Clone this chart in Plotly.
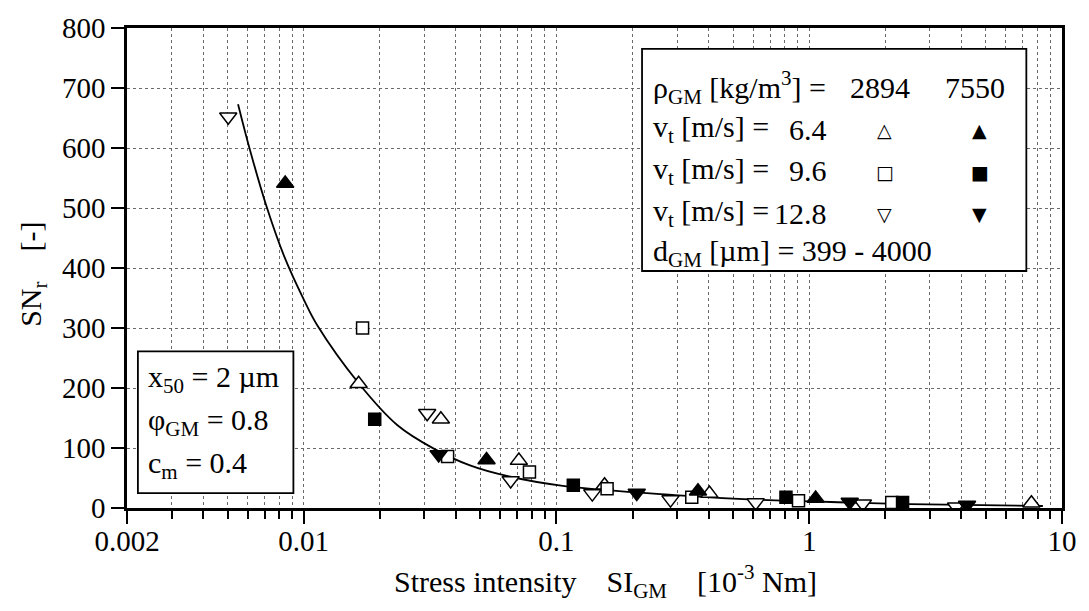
import numpy as np
import plotly.graph_objects as go

# ---- data -------------------------------------------------------------
# rho_GM = 2894 kg/m3 (open symbols) and 7550 kg/m3 (filled symbols)
si_up_open = [0.0165, 0.0349, 0.0710, 0.155, 0.403, 7.57]
sn_up_open = [207, 148, 79, 38, 24, 8]

si_up_fill = [0.00845, 0.0529, 0.363, 1.06]
sn_up_fill = [541, 80, 28, 16]

si_sq_open = [0.0171, 0.0371, 0.0782, 0.1586, 0.343, 0.907, 2.12]
sn_sq_open = [300, 86, 60, 32, 18, 12, 9]

si_sq_fill = [0.0191, 0.1166, 0.809, 2.34]
sn_sq_fill = [148, 38, 18, 9]

si_dn_open = [0.00503, 0.0308, 0.0659, 0.1386, 0.2826, 0.614, 1.63, 3.81]
sn_dn_open = [652, 158, 46, 24, 14, 9, 7, 2]

si_dn_fill = [0.0342, 0.2078, 1.446, 4.21]
sn_dn_fill = [89, 25, 10, 5]

# fitted trend line
curve_si = [0.0055, 0.0061, 0.0071, 0.0084, 0.0101, 0.0113, 0.0165, 0.0235,
            0.0327, 0.0455, 0.0643, 0.106, 0.294, 0.604, 1.49, 2.49, 8.4]
curve_sn = [673, 600, 505, 418, 344, 305, 208, 138,
            99, 71, 53, 37, 21.5, 14, 9, 6.6, 3.3]

x_tick_vals = [0.002, 0.01, 0.1, 1, 10]
x_tick_text = ["0.002", "0.01", "0.1", "1", "10"]
y_tick_vals = [0, 100, 200, 300, 400, 500, 600, 700, 800]

# ---- layout geometry --------------------------------------------------
W, H = 1089, 611
L, R, T, B = 127, 1071, 24, 508
FONT = "Liberation Serif"
FS = 30


def px(xp):
    return (xp - L) / (R - L)


def py(yp):
    return (B - yp) / (B - T)


fig = go.Figure()

fig.add_trace(go.Scatter(
    x=curve_si, y=curve_sn, mode="lines",
    line=dict(color="black", width=1.8, shape="spline", smoothing=1.0),
    showlegend=False, hoverinfo="skip"))


def add_points(xs, ys, symbol, filled, size):
    fig.add_trace(go.Scatter(
        x=xs, y=ys, mode="markers", showlegend=False,
        marker=dict(symbol=symbol, size=size,
                    color="black" if filled else "white",
                    line=dict(color="black", width=1.5))))


add_points(si_up_open, sn_up_open, "triangle-up", False, 15)
add_points(si_sq_open, sn_sq_open, "square", False, 12)
add_points(si_dn_open, sn_dn_open, "triangle-down", False, 15)
add_points(si_up_fill, sn_up_fill, "triangle-up", True, 15)
add_points(si_sq_fill, sn_sq_fill, "square", True, 12)
add_points(si_dn_fill, sn_dn_fill, "triangle-down", True, 15)

# 2..9 subdivisions of every decade on the log axis
minor_x = [m * 10.0 ** e for e in range(-3, 1) for m in range(2, 10)]
minor_x = [v for v in minor_x if 0.002 < v < 10 and
           all(abs(np.log10(v) - np.log10(t)) > 1e-6 for t in x_tick_vals)]

grid = dict(showgrid=True, gridcolor="#6a6a6a", gridwidth=1, griddash="dot")

fig.update_xaxes(
    type="log", range=[np.log10(0.002), 1],
    tickmode="array", tickvals=x_tick_vals, ticktext=x_tick_text,
    ticks="outside", ticklen=13, tickwidth=2, tickcolor="black",
    ticklabelstandoff=-8,
    showline=True, linecolor="black", linewidth=2.5, mirror=True,
    tickfont=dict(family=FONT, size=29, color="black"),
    minor=dict(tickmode="array", tickvals=minor_x, ticks="outside",
               ticklen=8, tickwidth=1.5, tickcolor="black", **grid),
    zeroline=False, **grid)

fig.update_yaxes(
    range=[0, 800], tickmode="array", tickvals=y_tick_vals,
    ticks="outside", ticklen=13, tickwidth=2, tickcolor="black",
    showline=True, linecolor="black", linewidth=2.5, mirror=True,
    tickfont=dict(family=FONT, size=29, color="black"),
    zeroline=False, **grid)

shapes = []
annotations = []


def box(x0, y0, x1, y1):
    shapes.append(dict(type="rect", xref="paper", yref="paper",
                       x0=px(x0), x1=px(x1), y0=py(y1), y1=py(y0),
                       line=dict(color="black", width=1.8),
                       fillcolor="white", layer="above"))


def text(s, xp, yp, xanchor="left", size=FS, family=FONT):
    annotations.append(dict(text=s, xref="paper", yref="paper",
                            x=px(xp), y=py(yp), xanchor=xanchor,
                            yanchor="middle", showarrow=False,
                            font=dict(family=family, size=size, color="black")))


# parameter box (top right)
box(647, 45, 1035, 269)
LX = 656
text("ρ<sub>GM</sub> [kg/m<sup>3</sup>] =", LX, 84)
text("2894", 887, 84, "center")
text("7550", 983, 84, "center")
speeds = ["6.4", "9.6", "12.8"]
open_keys = ["△", "□", "▽"]
fill_keys = ["▲", "■", "▼"]
row_y = [126, 168, 211]
for v, ok, fk, yy in zip(speeds, open_keys, fill_keys, row_y):
    text("v<sub>t</sub> [m/s] =", LX, yy)
    text(v, 836, yy, "right")
    text(ok, 892, yy + 1, "center", size=19, family="DejaVu Sans")
    text(fk, 988, yy + 1, "center", size=19, family="DejaVu Sans")
text("d<sub>GM</sub> [µm] = 399 - 4000", LX, 251)

# process conditions (bottom left)
box(138, 350, 295, 493)
text("x<sub>50</sub> = 2 µm", 146, 378)
text("φ<sub>GM</sub> = 0.8", 146, 421)
text("c<sub>m</sub> = 0.4", 146, 465)

# axis titles
annotations.append(dict(
    text="Stress intensity\u00a0\u00a0\u00a0\u00a0SI<sub>GM</sub>\u00a0\u00a0\u00a0\u00a0[10<sup>-3</sup> Nm]",
    xref="paper", yref="paper", x=px(610), y=py(582), xanchor="center",
    yanchor="middle", showarrow=False,
    font=dict(family=FONT, size=FS, color="black")))
annotations.append(dict(
    text="SN<sub>r</sub>\u00a0\u00a0\u00a0\u00a0[-]",
    xref="paper", yref="paper", x=px(32), y=py(272), xanchor="center",
    yanchor="middle", textangle=-90, showarrow=False,
    font=dict(family=FONT, size=FS, color="black")))

fig.update_layout(
    width=W, height=H,
    margin=dict(l=L, r=W - R, t=T, b=H - B),
    paper_bgcolor="white", plot_bgcolor="white",
    shapes=shapes, annotations=annotations, showlegend=False)

fig.write_html("out.html")
